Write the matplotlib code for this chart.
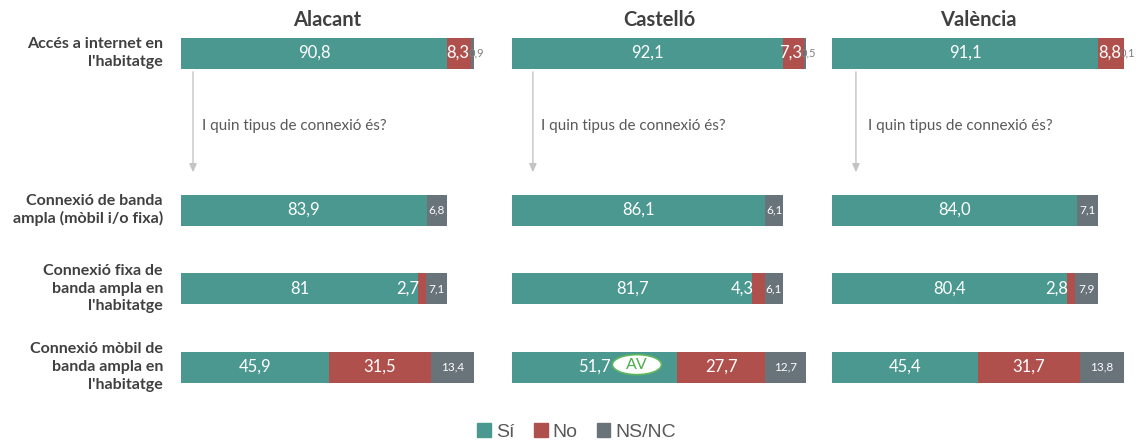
import numpy as np
import matplotlib

matplotlib.use("Agg")
import matplotlib.pyplot as plt
from matplotlib.patches import Patch, Ellipse

# ---------------------------------------------------------------------------
# data (percentages)
# ---------------------------------------------------------------------------
cities = ["Alacant", "Castelló", "València"]
row_labels = [
    "Accés a internet en\nl'habitatge",
    "Connexió de banda\nampla (mòbil i/o fixa)",
    "Connexió fixa de\nbanda ampla en\nl'habitatge",
    "Connexió mòbil de\nbanda ampla en\nl'habitatge",
]
# one list per city, one value per row
si = [[90.8, 83.9, 81.0, 45.9],
      [92.1, 86.1, 81.7, 51.7],
      [91.1, 84.0, 80.4, 45.4]]
no = [[8.3, 0.0, 2.7, 31.5],
      [7.3, 0.0, 4.3, 27.7],
      [8.8, 0.0, 2.8, 31.7]]
nsnc = [[0.9, 6.8, 7.1, 13.4],
        [0.5, 6.1, 6.1, 12.7],
        [0.1, 7.1, 7.9, 13.8]]
si_text_override = {(0, 2): "81"}      # shown without decimal in the source
series_names = ["Sí", "No", "NS/NC"]
question = "I quin tipus de connexió és?"

# ---------------------------------------------------------------------------
# style / layout
# ---------------------------------------------------------------------------
C_SI, C_NO, C_NS = "#4A988F", "#B0504D", "#68737A"
DARK, MID = "#404040", "#595959"
W, H = 1142, 441
ROW_Y = [0, 2, 3, 4]           # mobile/fixed rows are tighter than the first
PX_PER_ROW = 78.5
TOP_ROW_PX = 53
BAR_H = 31 / PX_PER_ROW
AX_X = [(181, 293), (512, 294), (832, 292)]   # left, width in pixels
ARROW_X = [4.1, 7.1, 8.2]
TEXT_X = [7.2, 9.9, 12.3]

plt.rcParams["font.family"] = ["Lato", "DejaVu Sans"]


def fmt(v):
    return f"{v:.1f}".replace(".", ",")


fig = plt.figure(figsize=(W / 100, H / 100), dpi=100)
axes = []
for k, city in enumerate(cities):
    left, width = AX_X[k]
    ax = fig.add_axes([left / W, 0, width / W, 1])
    axes.append(ax)
    ax.set_xlim(0, 100)
    ax.set_ylim((H - TOP_ROW_PX) / PX_PER_ROW, -TOP_ROW_PX / PX_PER_ROW)
    ax.axis("off")

    if k == 0:
        # row labels, right-aligned line by line
        for y, lab in zip(ROW_Y, row_labels):
            ax.annotate(lab, xy=(0, y), xytext=(-13, 0),
                        textcoords="offset points", ha="right", va="center",
                        multialignment="right", fontsize=11.5,
                        fontweight="bold", color=DARK, linespacing=1.32,
                        annotation_clip=False)

    ax.text(50, -0.42, city, ha="center", va="center", fontsize=14.5,
            fontweight="bold", color=DARK)

    for r, y in enumerate(ROW_Y):
        vals = np.array([si[k][r], no[k][r], nsnc[k][r]])
        if r == 3:
            # the mobile row is drawn as a full-width 100% stacked bar
            widths = vals / vals.sum() * 100
        else:
            widths = vals
        lefts = np.concatenate([[0], np.cumsum(widths)[:-1]])
        for w_, l_, c in zip(widths, lefts, [C_SI, C_NO, C_NS]):
            if w_ > 0:
                ax.barh(y, w_, left=l_, height=BAR_H, color=c, lw=0)

        # Sí label
        txt = si_text_override.get((k, r), fmt(vals[0]))
        ax.text(lefts[0] + widths[0] / 2, y, txt, ha="center", va="center",
                color="white", fontsize=12)
        # No label
        if vals[1] > 0:
            if widths[1] >= 10:
                ax.text(lefts[1] + widths[1] / 2, y, fmt(vals[1]), ha="center",
                        va="center", color="white", fontsize=12)
            elif r == 0:
                ax.text(lefts[1] + widths[1] - 0.8, y, fmt(vals[1]), ha="right",
                        va="center", color="white", fontsize=12)
            else:
                ax.text(lefts[1] + 0.4, y, fmt(vals[1]), ha="right",
                        va="center", color="white", fontsize=12)
        # NS/NC label
        if r == 0:
            ax.text(lefts[2] + widths[2] + 1.0, y, fmt(vals[2]), ha="center",
                    va="center", color="#7f7f7f", fontsize=8)
        else:
            ax.text(lefts[2] + widths[2] / 2, y, fmt(vals[2]), ha="center",
                    va="center", color="white", fontsize=8.5)

    # arrow from the access row down to the connection-type rows
    ax.annotate("", xy=(ARROW_X[k], 1.52), xytext=(ARROW_X[k], 0.24),
                arrowprops=dict(arrowstyle="-|>,head_length=0.5,head_width=0.22",
                                color="#c4c4c4", lw=1, shrinkA=0, shrinkB=0))
    ax.text(TEXT_X[k], 0.93, question, ha="left", va="center",
            fontsize=11, color=MID)

# "AV" marker on the Castelló mobile bar
ax = axes[1]
ax.add_patch(Ellipse((42.5, ROW_Y[3] - 0.03), 16.7, 0.255, facecolor="white",
                     edgecolor="#5cb85c", lw=1.2, zorder=5))
ax.text(42.5, ROW_Y[3] - 0.03, "AV", ha="center", va="center", color="#4cae4c",
        fontsize=11.5, zorder=6)

handles = [Patch(color=c, label=n) for c, n in zip([C_SI, C_NO, C_NS], series_names)]
fig.legend(handles=handles, loc="center", bbox_to_anchor=(0.505, 0.02),
           ncol=3, frameon=False, handlelength=0.7, handleheight=0.7,
           handletextpad=0.25, columnspacing=1.0, labelcolor=MID,
           prop={"family": "Liberation Sans", "size": 14})

fig.savefig("out.png", dpi=100)
